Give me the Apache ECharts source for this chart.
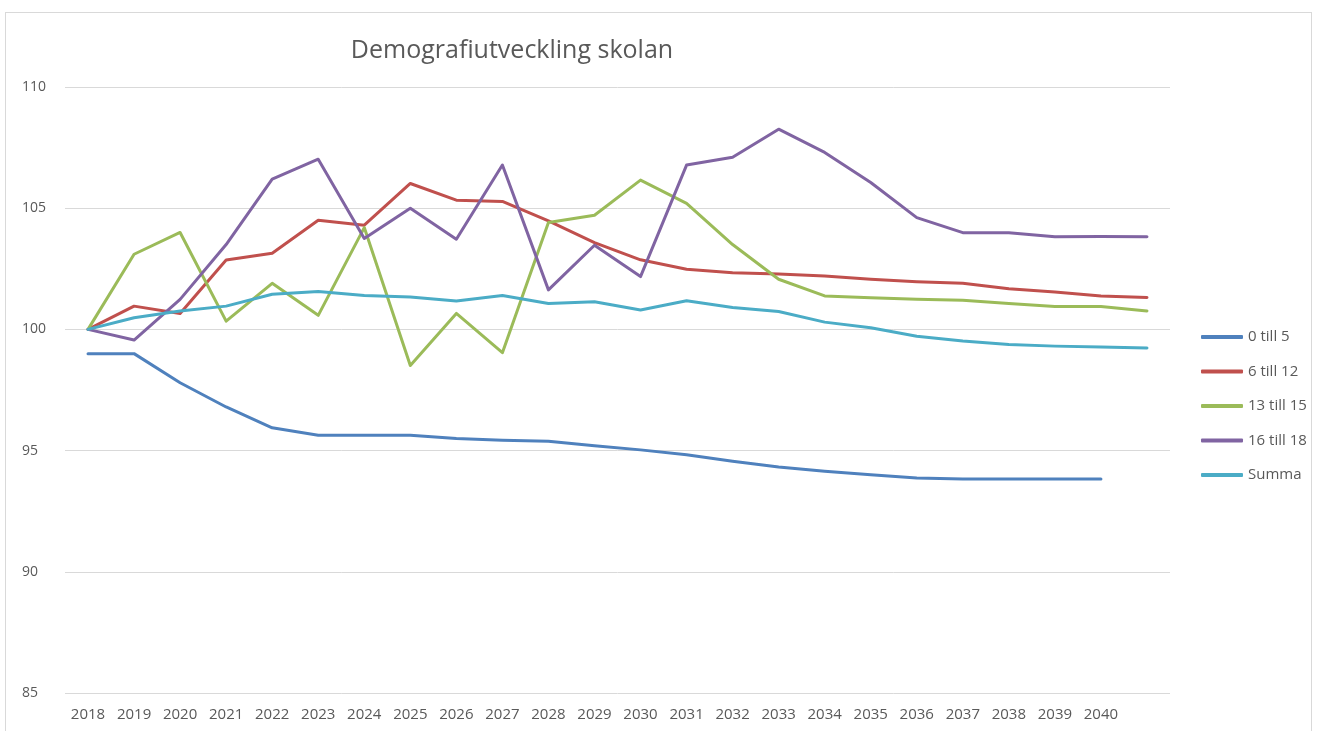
<!DOCTYPE html>
<html>
<head>
<meta charset="utf-8">
<script src="https://cdn.jsdelivr.net/npm/echarts@6/dist/echarts.min.js"></script>
<style>
  html, body { margin: 0; padding: 0; background: #fff; }
  #chart { width: 1323px; height: 731px; }
  #frame { position: absolute; left: 5px; top: 12px; width: 1305px; height: 740px;
           border: 1px solid #d9d9d9; pointer-events: none; }
</style>
</head>
<body>
<div id="chart"></div>
<div id="frame"></div>
<script>
// år (sista kategorin saknar etikett)
const years = ["2018", "2019", "2020", "2021", "2022", "2023", "2024", "2025", "2026", "2027",
  "2028", "2029", "2030", "2031", "2032", "2033", "2034", "2035", "2036", "2037", "2038",
  "2039", "2040", ""];

const age0to5 = [99.0, 99.0, 97.8, 96.8, 95.94, 95.63, 95.63, 95.63, 95.5, 95.43, 95.39, 95.2,
  95.03, 94.83, 94.56, 94.32, 94.15, 94.0, 93.87, 93.83, 93.83, 93.83, 93.83];
const age6to12 = [100, 100.96, 100.66, 102.86, 103.14, 104.5, 104.3, 106.02, 105.33, 105.28,
  104.48, 103.58, 102.87, 102.48, 102.34, 102.29, 102.2, 102.07, 101.97, 101.9, 101.68, 101.54,
  101.38, 101.32];
const age13to15 = [100, 103.1, 104.0, 100.34, 101.9, 100.58, 104.2, 98.51, 100.66, 99.04,
  104.41, 104.71, 106.16, 105.2, 103.5, 102.07, 101.38, 101.31, 101.24, 101.2, 101.07, 100.94,
  100.94, 100.76];
const age16to18 = [100, 99.56, 101.24, 103.5, 106.2, 107.02, 103.75, 105.0, 103.72, 106.78,
  101.63, 103.47, 102.18, 106.78, 107.1, 108.26, 107.3, 106.06, 104.61, 103.99, 103.99, 103.82,
  103.83, 103.82];
const summa = [100, 100.48, 100.76, 100.96, 101.45, 101.56, 101.4, 101.34, 101.17, 101.4,
  101.07, 101.14, 100.8, 101.18, 100.9, 100.74, 100.3, 100.07, 99.72, 99.52, 99.38, 99.31,
  99.27, 99.23];

const seriesList = [
  { name: "0 till 5", data: age0to5, color: "#4F81BD" },
  { name: "6 till 12", data: age6to12, color: "#C0504D" },
  { name: "13 till 15", data: age13to15, color: "#9BBB59" },
  { name: "16 till 18", data: age16to18, color: "#8064A2" },
  { name: "Summa", data: summa, color: "#4BACC6" },
];

const font = "Open Sans";
const chart = echarts.init(document.getElementById("chart"));
chart.setOption({
  animation: false,
  title: {
    text: "Demografiutveckling skolan",
    left: 507,
    textAlign: "center",
    top: 33,
    textStyle: { fontFamily: font, fontSize: 25, fontWeight: "normal", color: "#595959" },
  },
  legend: {
    orient: "vertical",
    left: 1196,
    top: 323,
    itemWidth: 42,
    itemHeight: 4,
    itemGap: 16.5,
    icon: "roundRect",
    textStyle: { fontFamily: font, fontSize: 15, color: "#595959", lineHeight: 18 },
    data: seriesList.map((s) => s.name),
  },
  grid: { left: 65, right: 153, top: 87, bottom: 38 },
  xAxis: {
    type: "category",
    data: years,
    boundaryGap: true,
    axisLine: { show: false },
    axisTick: { show: false },
    axisLabel: { interval: 0, margin: 14, fontFamily: font, fontSize: 15, color: "#595959" },
  },
  yAxis: {
    type: "value",
    min: 85,
    max: 110,
    interval: 5,
    axisLine: { show: false },
    axisTick: { show: false },
    splitLine: { lineStyle: { color: "#d9d9d9", width: 1 } },
    axisLabel: { align: "left", margin: 43, fontFamily: font, fontSize: 14, color: "#595959" },
  },
  series: seriesList.map((s) => ({
    name: s.name,
    type: "line",
    data: s.data,
    symbol: "none",
    color: s.color,
    lineStyle: { width: 3, color: s.color, cap: "round", join: "round" },
  })),
});
</script>
</body>
</html>
